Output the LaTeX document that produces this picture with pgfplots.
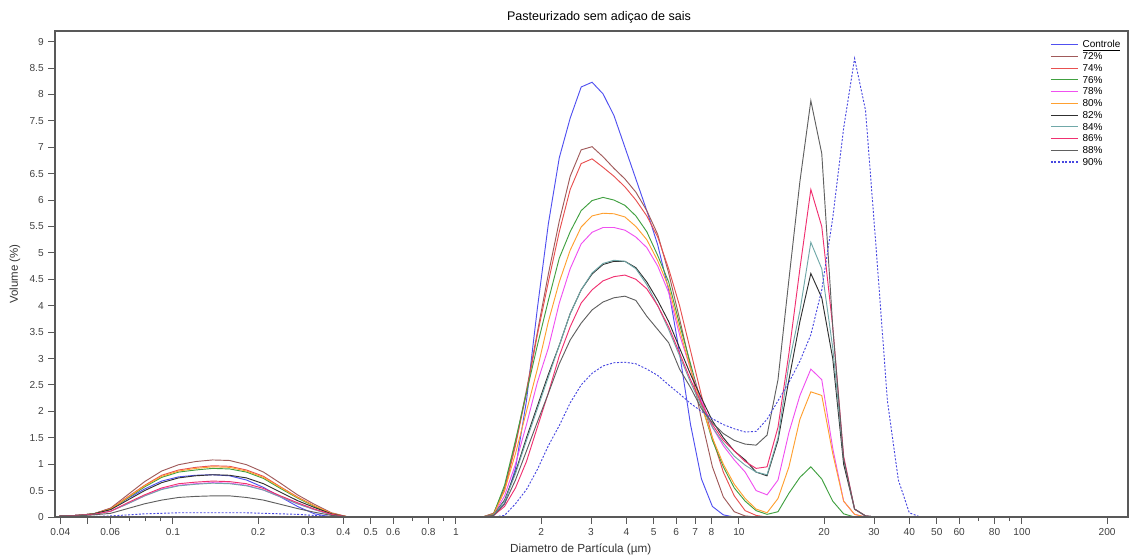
\documentclass[border=0pt]{standalone}
\usepackage{fontspec}
\setmainfont{Liberation Sans}
\usepackage{pgfplots}
\usepackage{pgfplotstable}
\pgfplotsset{compat=1.18}

\definecolor{cctrl}{RGB}{80,80,240}
\definecolor{c72}{RGB}{160,90,90}
\definecolor{c74}{RGB}{232,80,80}
\definecolor{c76}{RGB}{64,160,64}
\definecolor{c78}{RGB}{240,80,240}
\definecolor{c80}{RGB}{255,160,48}
\definecolor{c82}{RGB}{48,48,48}
\definecolor{c84}{RGB}{112,168,168}
\definecolor{c86}{RGB}{240,48,112}
\definecolor{c88}{RGB}{96,96,96}
\definecolor{c90}{RGB}{72,72,224}

% volume (%) per size class, diameter in um
\pgfplotstableread{
x c a72 a74 a76 a78 a80 a82 a84 a86 a88 a90
0.03981 0.02 0.02 0.02 0.02 0.02 0.02 0.02 0.02 0.02 0.02 0
0.04571 0.03 0.03 0.03 0.03 0.03 0.03 0.03 0.03 0.03 0.02 0
0.05248 0.06 0.06 0.06 0.06 0.05 0.06 0.06 0.05 0.05 0.04 0.01
0.06026 0.16 0.17 0.16 0.15 0.11 0.15 0.14 0.11 0.11 0.07 0.02
0.06918 0.35 0.42 0.38 0.36 0.25 0.37 0.32 0.25 0.27 0.16 0.04
0.07943 0.53 0.67 0.60 0.57 0.40 0.59 0.50 0.40 0.42 0.25 0.06
0.09120 0.68 0.87 0.79 0.75 0.53 0.77 0.65 0.52 0.55 0.32 0.07
0.10471 0.76 0.99 0.89 0.85 0.60 0.87 0.74 0.59 0.63 0.37 0.08
0.12023 0.79 1.05 0.94 0.89 0.63 0.92 0.78 0.62 0.66 0.39 0.08
0.13804 0.80 1.08 0.97 0.92 0.65 0.95 0.80 0.64 0.68 0.40 0.08
0.15849 0.78 1.07 0.96 0.91 0.64 0.94 0.79 0.63 0.67 0.40 0.08
0.18197 0.70 0.99 0.89 0.85 0.60 0.87 0.74 0.59 0.63 0.37 0.08
0.20893 0.56 0.85 0.77 0.73 0.51 0.75 0.63 0.51 0.54 0.32 0.07
0.23988 0.38 0.64 0.57 0.54 0.38 0.56 0.47 0.38 0.40 0.24 0.06
0.27542 0.20 0.42 0.38 0.36 0.25 0.37 0.31 0.25 0.27 0.16 0.05
0.31623 0.06 0.24 0.21 0.20 0.14 0.21 0.18 0.14 0.15 0.09 0.03
0.36308 0 0.08 0.07 0.06 0.05 0.07 0.06 0.04 0.05 0.03 0.01
0.41687 0 0 0 0 0 0 0 0 0 0 0
1.243 0 0 0 0 0 0 0 0 0 0 0
1.359 0.03 0.07 0.07 0.06 0.04 0.05 0.04 0.04 0.03 0.03 0
1.485 0.25 0.55 0.50 0.60 0.40 0.50 0.32 0.30 0.20 0.25 0.03
1.623 0.92 1.40 1.35 1.45 1.00 1.20 0.85 0.82 0.55 0.70 0.25
1.775 2.20 2.40 2.35 2.35 1.75 2.00 1.50 1.45 1.05 1.25 0.52
1.940 3.95 3.50 3.45 3.25 2.55 2.80 2.10 2.05 1.70 1.80 0.90
2.121 5.55 4.60 4.45 4.10 3.20 3.70 2.70 2.65 2.35 2.34 1.35
2.318 6.80 5.60 5.40 4.90 4.05 4.45 3.25 3.25 3.05 2.90 1.73
2.533 7.55 6.45 6.20 5.40 4.70 5.05 3.85 3.85 3.60 3.35 2.16
2.770 8.14 6.95 6.69 5.80 5.17 5.49 4.30 4.30 4.05 3.67 2.50
3.027 8.23 7.01 6.78 5.99 5.39 5.70 4.60 4.62 4.30 3.92 2.72
3.309 8.01 6.82 6.62 6.05 5.48 5.75 4.78 4.80 4.47 4.07 2.86
3.617 7.60 6.60 6.45 6.00 5.48 5.74 4.84 4.86 4.55 4.15 2.92
3.954 7.00 6.40 6.25 5.90 5.43 5.68 4.84 4.84 4.58 4.18 2.93
4.322 6.40 6.15 6.00 5.70 5.30 5.50 4.72 4.70 4.50 4.10 2.90
4.724 5.80 5.80 5.70 5.40 5.10 5.25 4.45 4.40 4.32 3.80 2.80
5.164 5.15 5.35 5.30 4.95 4.75 4.85 4.10 4.00 4.00 3.55 2.68
5.644 4.30 4.62 4.70 4.45 4.25 4.35 3.70 3.55 3.60 3.30 2.50
6.169 3.10 3.75 4.00 3.65 3.45 3.55 3.20 3.05 3.10 2.80 2.33
6.744 1.75 2.85 3.15 2.90 2.80 2.80 2.70 2.55 2.60 2.45 2.15
7.371 0.72 1.85 2.30 2.15 2.20 2.10 2.25 2.10 2.15 2.05 2.00
8.057 0.20 0.95 1.50 1.45 1.70 1.50 1.82 1.70 1.75 1.78 1.86
8.807 0.04 0.38 0.85 0.95 1.35 1.00 1.50 1.40 1.45 1.58 1.75
9.627 0 0.10 0.40 0.55 1.08 0.62 1.25 1.15 1.25 1.45 1.67
10.52 0 0.02 0.12 0.30 0.85 0.35 1.08 0.98 1.05 1.38 1.61
11.50 0 0 0.03 0.12 0.50 0.15 0.85 0.85 0.92 1.36 1.62
12.57 0 0 0 0.05 0.42 0.08 0.78 0.80 0.95 1.55 1.85
13.74 0 0 0 0.10 0.70 0.35 1.45 1.50 1.70 2.60 2.20
15.02 0 0 0 0.45 1.60 0.95 2.60 2.90 3.10 4.50 2.55
16.42 0 0 0 0.75 2.30 1.85 3.70 3.90 4.70 6.35 2.95
17.95 0 0 0 0.95 2.80 2.37 4.61 5.20 6.20 7.88 3.45
19.62 0 0 0 0.72 2.60 2.30 4.15 4.70 5.50 6.88 4.30
21.45 0 0 0 0.30 1.30 1.20 3.00 3.20 3.60 3.60 5.66
23.44 0 0 0 0.06 0.30 0.30 1.00 1.10 1.15 1.10 7.36
25.62 0 0 0 0 0.05 0.05 0.15 0.15 0.15 0.15 8.68
28.01 0 0 0 0 0 0 0.02 0.02 0.02 0.02 7.70
30.62 0 0 0 0 0 0 0 0 0 0 5.00
33.47 0 0 0 0 0 0 0 0 0 0 2.20
36.58 0 0 0 0 0 0 0 0 0 0 0.70
39.99 0 0 0 0 0 0 0 0 0 0 0.08
43.71 0 0 0 0 0 0 0 0 0 0 0
}\psd

\begin{document}
\begin{tikzpicture}
\begin{axis}[
    scale only axis,
    width=804.75pt, height=364.5pt,
    xmode=log,
    xmin=0.0383, xmax=237,
    ymin=0, ymax=9.2,
    axis on top,
    axis line style={draw=black!65, line width=0.8pt},
    every tick/.style={draw=black!65, line width=0.7pt},
    tick align=outside, tick pos=left,
    major tick length=5pt, minor tick length=3pt,
    xtick={0.04,0.05,0.06,0.1,0.2,0.3,0.4,0.5,0.6,0.8,1,2,3,4,5,6,7,8,10,20,30,40,50,60,80,100,200},
    xticklabels={0.04,,0.06,0.1,0.2,0.3,0.4,0.5,0.6,0.8,1,2,3,4,5,6,7,8,10,20,30,40,50,60,80,100,200},
    minor xtick={0.07,0.08,0.09,0.7,0.9,70,90},
    ytick={0,0.5,...,9},
    /pgf/number format/assume math mode=true,
    yticklabel={\pgfmathprintnumber[fixed,precision=1]{\tick}},
    tick label style={font=\fontsize{7.6}{8}\selectfont, text=black!75},
    title={Pasteurizado sem adiçao de sais},
    every axis title shift=0pt,
    title style={at={(axis description cs:0.507,1.0288)}, anchor=center, inner sep=0pt, font=\fontsize{9.4}{10}\selectfont},
    xlabel={Diametro de Partícula (µm)},
    xlabel style={at={(axis description cs:0.49,-0.066)}, anchor=center, inner sep=0pt, font=\fontsize{8.8}{9}\selectfont, text=black!80},
    ylabel={Volume (\%)},
    ylabel style={at={(axis description cs:-0.0373,0.5)}, anchor=center, inner sep=0pt, font=\fontsize{8.6}{9}\selectfont, text=black!80},
    legend style={at={(0.998,0.99)}, anchor=north east, draw=none, fill=none,
        font=\fontsize{7.5}{8}\selectfont,
        nodes={inner sep=0.9pt, text height=6pt, text depth=1pt},
        /tikz/every odd column/.append style={column sep=2.5pt}},
    legend cell align=left,
    legend image code/.code={\draw[#1, line width=0.8pt] (0pt,0pt) -- (20pt,0pt);},
    every axis plot/.append style={line width=0.7pt},
]
\addplot[cctrl] table[x=x,y=c]{\psd};
\addplot[c72] table[x=x,y=a72]{\psd};
\addplot[c74] table[x=x,y=a74]{\psd};
\addplot[c76] table[x=x,y=a76]{\psd};
\addplot[c78] table[x=x,y=a78]{\psd};
\addplot[c80] table[x=x,y=a80]{\psd};
\addplot[c82] table[x=x,y=a82]{\psd};
\addplot[c84] table[x=x,y=a84]{\psd};
\addplot[c86] table[x=x,y=a86]{\psd};
\addplot[c88] table[x=x,y=a88]{\psd};
\addplot[c90, dash pattern=on 1.5pt off 1.2pt] table[x=x,y=a90]{\psd};
\legend{\underline{Controle},72\%,74\%,76\%,78\%,80\%,82\%,84\%,86\%,88\%,90\%}
\end{axis}
\pgfresetboundingbox
\path[use as bounding box] ([xshift=-41.25pt,yshift=-30.75pt]current axis.south west) rectangle ([xshift=6.75pt,yshift=23.25pt]current axis.north east);
\end{tikzpicture}
\end{document}
